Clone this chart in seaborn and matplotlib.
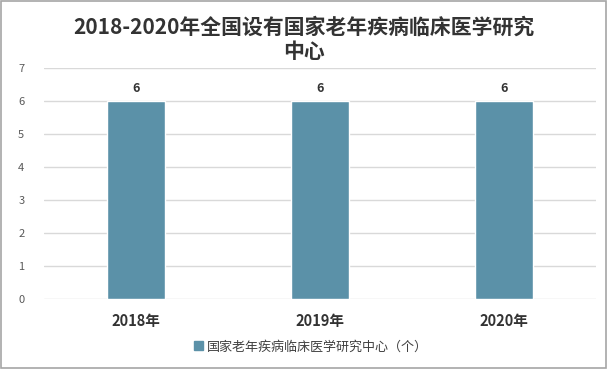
import matplotlib
matplotlib.use("Agg")
import matplotlib.pyplot as plt
import seaborn as sns
import pandas as pd
from matplotlib.patches import Rectangle

years = ["2018年", "2019年", "2020年"]
values = [6, 6, 6]
series_name = "国家老年疾病临床医学研究中心（个）"
title = "2018-2020年全国设有国家老年疾病临床医学研究\n中心"

sns.set_theme(style="white")
plt.rcParams['font.family'] = ['Noto Sans CJK SC', 'DejaVu Sans']

df = pd.DataFrame({"year": years, "value": values, "series": series_name})

fig = plt.figure(figsize=(6.08, 3.69), dpi=100)
ax = fig.add_axes([0.072, 0.190, 0.908, 0.626])
color = "#5B91A8"
sns.barplot(data=df, x="year", y="value", hue="series", palette=[color],
            width=0.315, saturation=1, ax=ax, legend=False)

ax.set_ylim(0, 7)
ax.set_yticks(range(0, 8))
ax.yaxis.grid(True, color="#D9D9D9", linewidth=1)
ax.set_axisbelow(True)
for s in ax.spines.values():
    s.set_visible(False)
ax.set_xlabel("")
ax.set_ylabel("")
ax.tick_params(axis="y", labelsize=8, colors="#595959", length=0, pad=14)
ax.tick_params(axis="x", labelsize=10.5, colors="#333333", length=0, pad=10)
for lab in ax.get_xticklabels():
    lab.set_fontweight("bold")

for c in ax.containers:
    ax.bar_label(c, labels=[str(v) for v in values], padding=4, fontsize=9,
                 fontweight="bold", color="#333333")

fig.text(0.5, 0.893, title, ha="center", va="center", fontsize=15,
         fontweight="bold", color="#333333", linespacing=1.2)

handle = Rectangle((0, 0), 1, 1, color=color)
fig.legend([handle], [series_name], loc="center", bbox_to_anchor=(0.512, 0.06),
           frameon=False, fontsize=9.4, handlelength=0.7, handleheight=0.7,
           handletextpad=0.3, labelcolor="#404040")

fig.patches.append(Rectangle((0.002, 0.003), 0.995, 0.994, transform=fig.transFigure,
                             fill=False, edgecolor="#A6A6A6", linewidth=1.2))

fig.savefig("out.png", dpi=100)
